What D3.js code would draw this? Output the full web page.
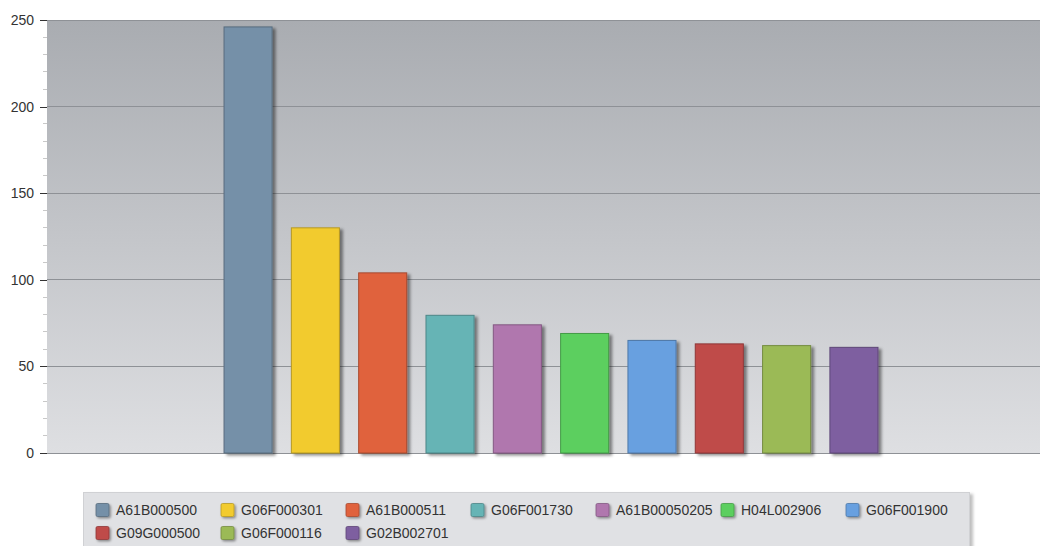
<!DOCTYPE html>
<html>
<head>
<meta charset="utf-8">
<script src="https://cdn.jsdelivr.net/npm/d3@7"></script>
<style>
html,body{margin:0;padding:0;background:#fff;}
svg{display:block;font-family:"Liberation Sans",Arial,sans-serif;}
</style>
</head>
<body>
<svg id="chart" width="1040" height="546"></svg>
<script>
const categories = ["A61B000500","G06F000301","A61B000511","G06F001730","A61B00050205","H04L002906","G06F001900","G09G000500","G06F000116","G02B002701"];
const values = [246, 130, 104, 79.5, 74, 69, 65, 63, 62, 61];
const colors = ["#7590a8","#f2cb2e","#e0623e","#66b4b5","#b077ae","#5ccf5e","#68a0e0","#bf4b4a","#9bba57","#7e5fa0"];
const yTicks = [0, 50, 100, 150, 200, 250];

const svg = d3.select("#chart");
const plot = {left: 47, top: 20, right: 1040, bottom: 453};

const defs = svg.append("defs");
const grad = defs.append("linearGradient").attr("id","bg").attr("x1",0).attr("y1",0).attr("x2",0).attr("y2",1);
grad.append("stop").attr("offset","0%").attr("stop-color","#a9acb1");
grad.append("stop").attr("offset","100%").attr("stop-color","#dedfe2");
const f = defs.append("filter").attr("id","shadow").attr("x","-20%").attr("y","-20%").attr("width","150%").attr("height","150%");
f.append("feDropShadow").attr("dx",3).attr("dy",2).attr("stdDeviation",1.5).attr("flood-color","#000").attr("flood-opacity",0.45);
const f2 = defs.append("filter").attr("id","lshadow").attr("x","-10%").attr("y","-30%").attr("width","130%").attr("height","160%");
f2.append("feDropShadow").attr("dx",3).attr("dy",2).attr("stdDeviation",1.5).attr("flood-color","#000").attr("flood-opacity",0.25);
const f3 = defs.append("filter").attr("id","sshadow").attr("x","-30%").attr("y","-30%").attr("width","180%").attr("height","180%");
f3.append("feDropShadow").attr("dx",1.5).attr("dy",1.5).attr("stdDeviation",1).attr("flood-color","#000").attr("flood-opacity",0.4);

const y = d3.scaleLinear().domain([0, 250]).range([plot.bottom, plot.top]);
const x = d3.scaleBand().domain(categories).range([214.4, 887.6]).paddingInner(0.286).paddingOuter(0.143);

// background
svg.append("rect").attr("x",plot.left).attr("y",plot.top).attr("width",plot.right-plot.left).attr("height",plot.bottom-plot.top).attr("fill","url(#bg)");

// gridlines
svg.append("g").selectAll("line").data(yTicks).join("line")
  .attr("x1",plot.left).attr("x2",plot.right)
  .attr("y1",d=>y(d)).attr("y2",d=>y(d))
  .attr("stroke","#8e9196").attr("stroke-width",1).attr("shape-rendering","crispEdges");

// minor ticks
const minor = d3.range(0, 251, 10).filter(v => v % 50 !== 0);
svg.append("g").selectAll("line").data(minor).join("line")
  .attr("x1",43).attr("x2",47).attr("y1",d=>y(d)).attr("y2",d=>y(d))
  .attr("stroke","#c8c8c8").attr("stroke-width",1).attr("shape-rendering","crispEdges");

// y axis
const yAxis = d3.axisLeft(y).tickValues(yTicks).tickSize(7).tickPadding(6);
const ga = svg.append("g").attr("transform",`translate(${plot.left},0)`).call(yAxis);
ga.select(".domain").remove();
ga.selectAll(".tick line").attr("stroke","#333").attr("shape-rendering","crispEdges");
ga.selectAll(".tick text").attr("fill","#333").attr("font-size","14px").attr("font-family","Liberation Sans, Arial, sans-serif");

// bars
svg.append("g").selectAll("rect").data(categories).join("rect")
  .attr("x",d=>x(d)).attr("width",x.bandwidth())
  .attr("y",(d,i)=>y(values[i])).attr("height",(d,i)=>y(0)-y(values[i]))
  .attr("fill",(d,i)=>colors[i])
  .attr("stroke",(d,i)=>d3.color(colors[i]).darker(0.8))
  .attr("stroke-width",1)
  .attr("filter","url(#shadow)");

// legend
const lg = svg.append("g");
lg.append("rect").attr("x",83.5).attr("y",492.5).attr("width",886).attr("height",60)
  .attr("fill","#e0e1e4").attr("stroke","#d0d1d4").attr("filter","url(#lshadow)");
const items = lg.selectAll("g").data(categories).join("g")
  .attr("transform",(d,i)=>`translate(${96 + (i%7)*125},${510 + Math.floor(i/7)*23})`);
items.append("rect").attr("x",0).attr("y",-6.5).attr("width",13).attr("height",13).attr("rx",1.5)
  .attr("fill",(d,i)=>colors[i]).attr("stroke",(d,i)=>d3.color(colors[i]).darker(0.8)).attr("stroke-width",0.8)
  .attr("filter","url(#sshadow)");
items.append("text").attr("x",20).attr("y",0).attr("dy","0.35em")
  .attr("font-size","14px").attr("fill","#333").text(d=>d);
</script>
</body>
</html>
